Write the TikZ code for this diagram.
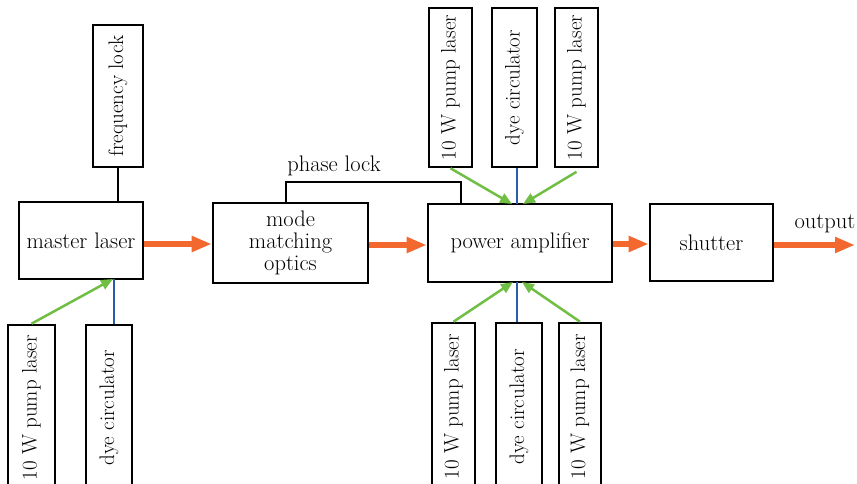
\documentclass[tikz,border=0pt]{standalone}
\usetikzlibrary{arrows.meta,calc}
\definecolor{orng}{RGB}{242,104,46}
\definecolor{grn}{RGB}{112,190,68}
\definecolor{blu}{RGB}{42,92,172}
\begin{document}
\begin{tikzpicture}[x=1pt,y=-1pt,
  blk/.style={draw, line width=2.6pt, inner sep=0pt, align=center,
    font=\fontsize{22.5}{22}\selectfont},
  vblk/.style={blk, rotate=90, font=\fontsize{21}{22}\selectfont},
  beam/.style={orng, line width=5.5pt, -{Triangle[length=20pt,width=15pt]}},
  pump/.style={grn, line width=2.5pt, -{Triangle[length=12pt,width=10pt]}},
  dye/.style={blu, line width=2pt},
  wire/.style={line width=2.4pt},
  lbl/.style={font=\fontsize{22.5}{22}\selectfont, inner sep=0pt}]
\useasboundingbox (0,0) rectangle (857,483);
\clip (0,0) rectangle (857,483);

% main chain
\node[blk, minimum width=124pt, minimum height=77pt] (master) at (81,240.5) {master laser};
\node[blk, minimum width=155pt, minimum height=80pt] (mode) at (290.5,243) {mode\\matching\\optics};
\node[blk, minimum width=184pt, minimum height=78pt] (power) at (520,243) {power amplifier};
\node[blk, minimum width=123pt, minimum height=77pt] (shutter) at (711.5,242.5) {shutter};

% frequency lock above the master laser
\node[vblk, minimum width=142pt, minimum height=50pt] (freq) at (118,96) {frequency lock};
\draw[wire] (freq.west) -- (freq.west |- master.north);

% pumps of the master laser
\node[vblk, minimum width=166pt, minimum height=47pt] (pl1) at (31.5,408) {10 W pump laser};
\node[vblk, minimum width=166pt, minimum height=46pt] (dc1) at (109,408) {dye circulator};
\coordinate (mlin) at (114,279);
\draw[dye] (dc1.east -| mlin) -- (mlin);
\draw[pump] (pl1.east) -- ([xshift=-1pt]mlin);

% pumps above the power amplifier
\node[vblk, minimum width=159pt, minimum height=43pt] (tp1) at (450.5,87.5) {10 W pump laser};
\node[vblk, minimum width=159pt, minimum height=45pt] (tp2) at (514.5,87.5) {dye circulator};
\node[vblk, minimum width=159pt, minimum height=43pt] (tp3) at (576.5,87.5) {10 W pump laser};
\coordinate (ptop) at (517,204);
\draw[dye] (tp2.west -| ptop) -- (ptop);
\draw[pump] (tp1.west) -- ([xshift=-5pt]ptop);
\draw[pump] ([yshift=-3.5pt]tp3.west) -- ([xshift=6pt]ptop);

% pumps below the power amplifier
\node[vblk, minimum width=168pt, minimum height=43pt] (bp1) at (453.5,407) {10 W pump laser};
\node[vblk, minimum width=168pt, minimum height=46pt] (bp2) at (519,407) {dye circulator};
\node[vblk, minimum width=168pt, minimum height=42pt] (bp3) at (580,407) {10 W pump laser};
\coordinate (pbot) at (517,282);
\draw[dye] (bp2.east -| pbot) -- (pbot);
\draw[pump] (bp1.east) -- ([xshift=-4pt]pbot);
\draw[pump] (bp3.east) -- ([xshift=5pt]pbot);

% phase lock between mode matching optics and power amplifier
\draw[wire] ([xshift=-4.5pt]mode.north) -- ++(0,-20) -| ([xshift=-59pt]power.north);
\node[lbl] (phase) at (334,166) {phase lock};

% laser beam path
\draw[beam] ([yshift=-3.5pt]master.east) -- ([yshift=-3.5pt]master.east -| mode.west);
\draw[beam] ([yshift=-2pt]mode.east) -- ([yshift=-2pt]mode.east -| power.west);
\draw[beam] ([yshift=-1pt]power.east) -- ([yshift=-1pt]power.east -| shutter.west);
\coordinate (out) at (855,245);
\draw[beam] (shutter.east |- out) -- (out);
\node[lbl] (outlbl) at (825,224) {output};
\end{tikzpicture}
\end{document}
